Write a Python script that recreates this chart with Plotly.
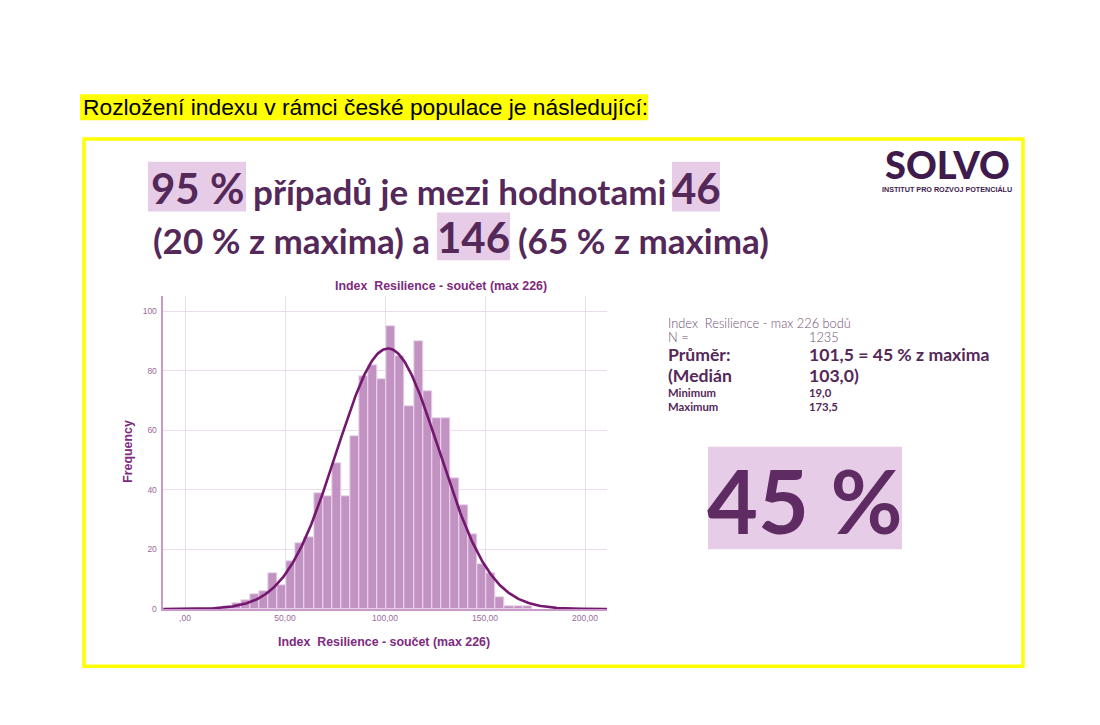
import numpy as np
import plotly.graph_objects as go

W, H = 1100, 719   # page adds a few px below the figure; keep the layout at 1:1 pixels

# ---------------- data ----------------
BIN_START = 19.0          # minimum
BIN_END = 173.5           # maximum
COUNTS = [1, 2, 3, 5, 6, 12, 8, 16, 22, 24, 39, 38, 49, 38, 58, 78, 82, 77,
          95, 85, 68, 90, 73, 64, 64, 44, 35, 25, 15, 12, 4, 1, 1, 1]
N_CASES = 1235
MEAN = 101.5
SD = 25.6
X_TICKS = [0, 50, 100, 150, 200]
X_TICK_LABELS = [",00", "50,00", "100,00", "150,00", "200,00"]
Y_TICKS = [0, 20, 40, 60, 80, 100]

# ---------------- colours / fonts ----------------
BAR = "#C292C2"
BAR_EDGE = "#EBD8EB"
CURVE = "#74186F"
GRID = "#EDDCED"
AXIS = "#C99AC9"
PURPLE_T = "#7E2A7E"
TICK_C = "#9A6A9A"
DARK = "#542858"
HILITE = "#E7CCE7"
YELLOW = "#FFFF00"
ARIAL = "Liberation Sans, Arial, sans-serif"
GOTHIC = "Lato, Noto Sans, sans-serif"

bw = (BIN_END - BIN_START) / len(COUNTS)
centers = [BIN_START + bw * (i + 0.5) for i in range(len(COUNTS))]

xs = np.linspace(-11, 211, 500)
ys = N_CASES * bw * np.exp(-0.5 * ((xs - MEAN) / SD) ** 2) / (SD * np.sqrt(2 * np.pi))


def px(x):
    return x / W


def py(y):
    return 1 - y / H


fig = go.Figure()
fig.add_trace(go.Bar(x=centers, y=COUNTS, width=bw,
                     marker=dict(color=BAR, line=dict(color=BAR_EDGE, width=1)),
                     hoverinfo="x+y", showlegend=False))
fig.add_trace(go.Scatter(x=xs, y=ys, mode="lines",
                         line=dict(color=CURVE, width=2.6), hoverinfo="skip",
                         showlegend=False))

shapes = []
# yellow highlight of the top sentence
shapes.append(dict(type="rect", xref="paper", yref="paper",
                   x0=px(80), x1=px(648), y0=py(95), y1=py(121),
                   fillcolor=YELLOW, line=dict(width=0), layer="below"))
# yellow frame
shapes.append(dict(type="rect", xref="paper", yref="paper",
                   x0=px(84), x1=px(1023), y0=py(140), y1=py(671),
                   fillcolor="rgba(0,0,0,0)", line=dict(color=YELLOW, width=3.5),
                   layer="below"))
# highlight boxes in the headline
for (x0, x1, y0, y1) in [(148, 246, 163, 213), (672, 720, 163, 213),
                         (437, 510, 214, 262), (708, 902, 450, 553)]:
    shapes.append(dict(type="rect", xref="paper", yref="paper",
                       x0=px(x0), x1=px(x1), y0=py(y0), y1=py(y1),
                       fillcolor=HILITE, line=dict(width=0), layer="below"))

ann = []


def text(t, x, y, size, color, family, xanchor="left", weight=None, angle=0):
    f = dict(size=size, color=color, family=family)
    if weight is not None:
        f["weight"] = weight
    ann.append(dict(text=t, x=px(x), y=py(y), xref="paper", yref="paper",
                    xanchor=xanchor, yanchor="middle", showarrow=False,
                    font=f, textangle=angle))


text("Rozložení indexu v rámci české populace je následující:", 81, 108, 22.8,
     "#000000", ARIAL)

# headline
text("95 %", 197, 189, 42, DARK, GOTHIC, "center", 700)
text("případů je mezi hodnotami", 459, 192, 35, DARK, GOTHIC, "center", 700)
text("46", 696, 189, 42, DARK, GOTHIC, "center", 700)
text("(20 % z maxima) a", 291, 242, 35, DARK, GOTHIC, "center", 700)
text("146", 473.5, 239, 42, DARK, GOTHIC, "center", 700)
text("(65 % z maxima)", 643, 242, 35, DARK, GOTHIC, "center", 700)

# logo
text("SOLVO", 947, 165, 38, "#3E1B4C", GOTHIC, "center", 900)
text("INSTITUT PRO ROZVOJ POTENCIÁLU", 947, 191, 7.2, "#3E1B4C", ARIAL, "center", 700)

# chart texts
text("Index\u00a0 Resilience - součet (max 226)", 441, 288, 12.4, PURPLE_T, ARIAL, "center", 700)
text("Index\u00a0 Resilience - součet (max 226)", 384, 646, 12.4, PURPLE_T, ARIAL, "center", 700)
text("Frequency", 128, 455, 12.4, PURPLE_T, ARIAL, "center", 700, angle=-90)

# stats block
LIGHT = "#6E4E72"
text("Index\u00a0 Resilience - max 226 bodů", 666, 325, 12.8, LIGHT, GOTHIC, "left", 300)
text("N =", 666, 339, 12.8, LIGHT, GOTHIC, "left", 300)
text(str(N_CASES), 807, 339, 12.8, LIGHT, GOTHIC, "left", 300)
text("Průměr:", 666, 357, 17.6, DARK, GOTHIC, "left", 700)
text("101,5 = 45 % z maxima", 807, 357, 17.6, DARK, GOTHIC, "left", 700)
text("(Medián", 666, 378.5, 17.6, DARK, GOTHIC, "left", 700)
text("103,0)", 807, 378.5, 17.6, DARK, GOTHIC, "left", 700)
text("Minimum", 666, 395.5, 11.3, DARK, GOTHIC, "left", 700)
text("19,0", 807, 395.5, 11.3, DARK, GOTHIC, "left", 700)
text("Maximum", 666, 409, 11.3, DARK, GOTHIC, "left", 700)
text("173,5", 807, 409, 11.3, DARK, GOTHIC, "left", 700)

text("45 %", 805, 503, 88, "#5E2C62", GOTHIC, "center", 700)

fig.update_layout(
    width=W, height=H, autosize=False,
    margin=dict(l=0, r=0, t=0, b=0),
    paper_bgcolor="white", plot_bgcolor="white",
    shapes=shapes, annotations=ann, bargap=0,
    xaxis=dict(domain=[px(163.3), px(607)], range=[-10.85, 211],
               tickvals=X_TICKS, ticktext=X_TICK_LABELS,
               showgrid=True, gridcolor=GRID, gridwidth=1.2, zeroline=False,
               showline=True, linecolor=AXIS, linewidth=1.5,
               tickfont=dict(size=8.5, color=TICK_C, family=ARIAL), ticks=""),
    yaxis=dict(domain=[py(613.3), py(298.3)], range=[0, 105],
               tickvals=Y_TICKS, showgrid=True, gridcolor=GRID, gridwidth=1.2,
               zeroline=False, showline=True, linecolor=AXIS, linewidth=1.5,
               tickfont=dict(size=8.5, color=TICK_C, family=ARIAL), ticks="",
               ticklabelstandoff=3),
)

fig.write_html("out.html", config=dict(displayModeBar=False),
               post_script="document.body.style.margin='0';")
